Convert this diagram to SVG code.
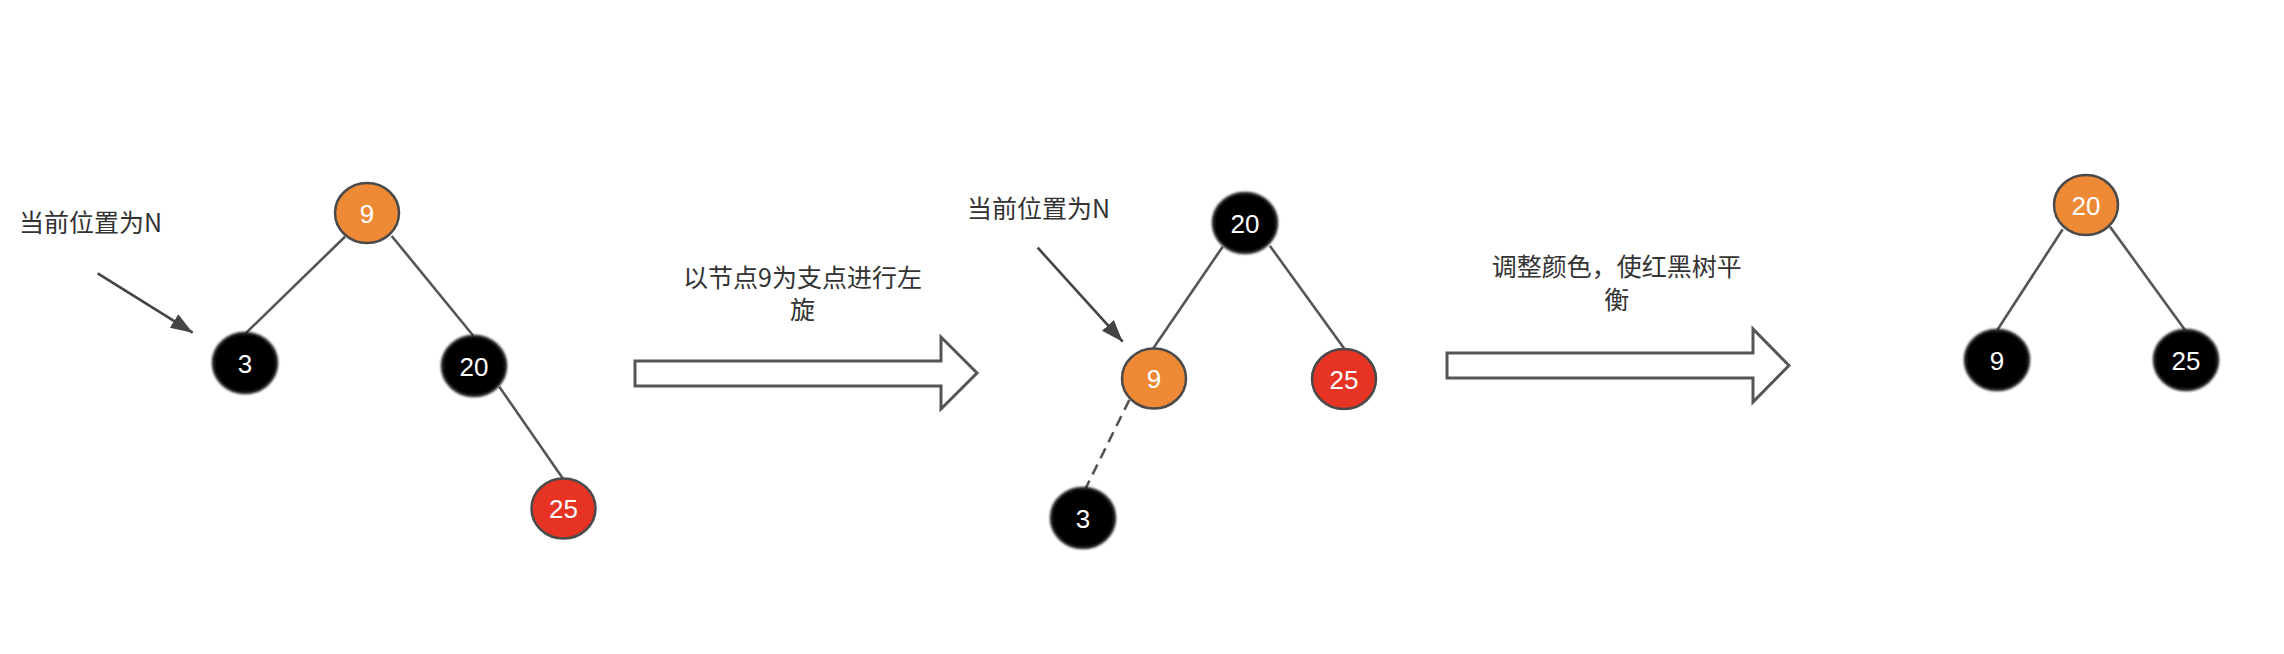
<svg xmlns="http://www.w3.org/2000/svg" width="2284" height="654" viewBox="0 0 2284 654">
<style>
.edge{stroke:#555;stroke-width:2.6;fill:none}
.dash{stroke-dasharray:11,7}
.ptr{stroke:#444;stroke-width:2.6;fill:none}
.big{fill:#fff;stroke:#555;stroke-width:3;stroke-linejoin:miter}
.n{stroke:#4a4a4a;stroke-width:2.5}
.orange{fill:#EE8935}
.red{fill:#E63324}
.black{fill:#000;stroke:#222}
.nt{font-family:"Liberation Sans",Arial,sans-serif;font-size:26px;fill:#fff;text-anchor:middle}
.lbl{font-family:"Noto Sans CJK SC","Noto Sans",sans-serif;font-size:25px;fill:#333}
.c{text-anchor:middle}
</style>
<defs>
<marker id="ah" markerUnits="userSpaceOnUse" markerWidth="24" markerHeight="18" viewBox="0 0 24 18" refX="22" refY="9" orient="auto">
<path d="M0,1 L22,9 L0,17 Z" fill="#444"/>
</marker>
<filter id="soft" x="-20%" y="-20%" width="140%" height="140%">
<feGaussianBlur stdDeviation="0.9"/>
</filter>
</defs>
<rect width="2284" height="654" fill="#fff"/>
<g id="connectors">
<line class="edge" x1="345" y1="236.7" x2="245.7" y2="333.3"/>
<line class="edge" x1="391.7" y1="236" x2="473.3" y2="335.7"/>
<line class="edge" x1="499.3" y1="386.7" x2="562.7" y2="478.3"/>
<line class="edge" x1="1222.7" y1="246.7" x2="1153.3" y2="348.3"/>
<line class="edge" x1="1270" y1="246" x2="1344" y2="348.3"/>
<line class="edge dash" x1="1129.3" y1="400" x2="1085.7" y2="488.3"/>
<line class="edge" x1="2062.7" y1="229.3" x2="1997.3" y2="330"/>
<line class="edge" x1="2110" y1="226.7" x2="2185" y2="330"/>
<line class="ptr" x1="97.7" y1="273.3" x2="192.7" y2="332.7" marker-end="url(#ah)"/>
<line class="ptr" x1="1037.7" y1="247.7" x2="1122.7" y2="341.7" marker-end="url(#ah)"/>
<path class="big" d="M635,361 L941,361 L941,337 L977,373 L941,409 L941,386 L635,386 Z"/>
<path class="big" d="M1447,353 L1753,353 L1753,329 L1789,365.5 L1753,402 L1753,378 L1447,378 Z"/>
</g>
<g id="label-n1"><text class="lbl" x="19" y="232">当前位置为N</text></g>
<g id="label-rotate"><text class="lbl c" x="802.5" y="287">以节点9为支点进行左</text><text class="lbl c" x="802.5" y="319">旋</text></g>
<g id="label-n2"><text class="lbl" x="967" y="218">当前位置为N</text></g>
<g id="label-recolor"><text class="lbl c" x="1616.7" y="276">调整颜色，使红黑树平</text><text class="lbl c" x="1616.7" y="309">衡</text></g>
<g id="t1-n9"><ellipse class="n orange" cx="367" cy="213" rx="32" ry="30"/><text class="nt" x="367" y="222.5">9</text></g>
<g id="t1-n3"><ellipse class="n black" cx="245" cy="363" rx="32" ry="30" filter="url(#soft)"/><text class="nt" x="245" y="372.5">3</text></g>
<g id="t1-n20"><ellipse class="n black" cx="474" cy="366" rx="32" ry="30" filter="url(#soft)"/><text class="nt" x="474" y="375.5">20</text></g>
<g id="t1-n25"><ellipse class="n red" cx="563.5" cy="508.5" rx="32" ry="30"/><text class="nt" x="563.5" y="518">25</text></g>
<g id="t2-n20"><ellipse class="n black" cx="1245" cy="223" rx="32" ry="30" filter="url(#soft)"/><text class="nt" x="1245" y="232.5">20</text></g>
<g id="t2-n9"><ellipse class="n orange" cx="1154" cy="378.5" rx="32" ry="30"/><text class="nt" x="1154" y="388">9</text></g>
<g id="t2-n25"><ellipse class="n red" cx="1344" cy="379" rx="32" ry="30"/><text class="nt" x="1344" y="388.5">25</text></g>
<g id="t2-n3"><ellipse class="n black" cx="1083" cy="518" rx="32" ry="30" filter="url(#soft)"/><text class="nt" x="1083" y="527.5">3</text></g>
<g id="t3-n20"><ellipse class="n orange" cx="2086" cy="205" rx="32" ry="30"/><text class="nt" x="2086" y="214.5">20</text></g>
<g id="t3-n9"><ellipse class="n black" cx="1997" cy="360" rx="32" ry="30" filter="url(#soft)"/><text class="nt" x="1997" y="369.5">9</text></g>
<g id="t3-n25"><ellipse class="n black" cx="2186" cy="360" rx="32" ry="30" filter="url(#soft)"/><text class="nt" x="2186" y="369.5">25</text></g>
</svg>
